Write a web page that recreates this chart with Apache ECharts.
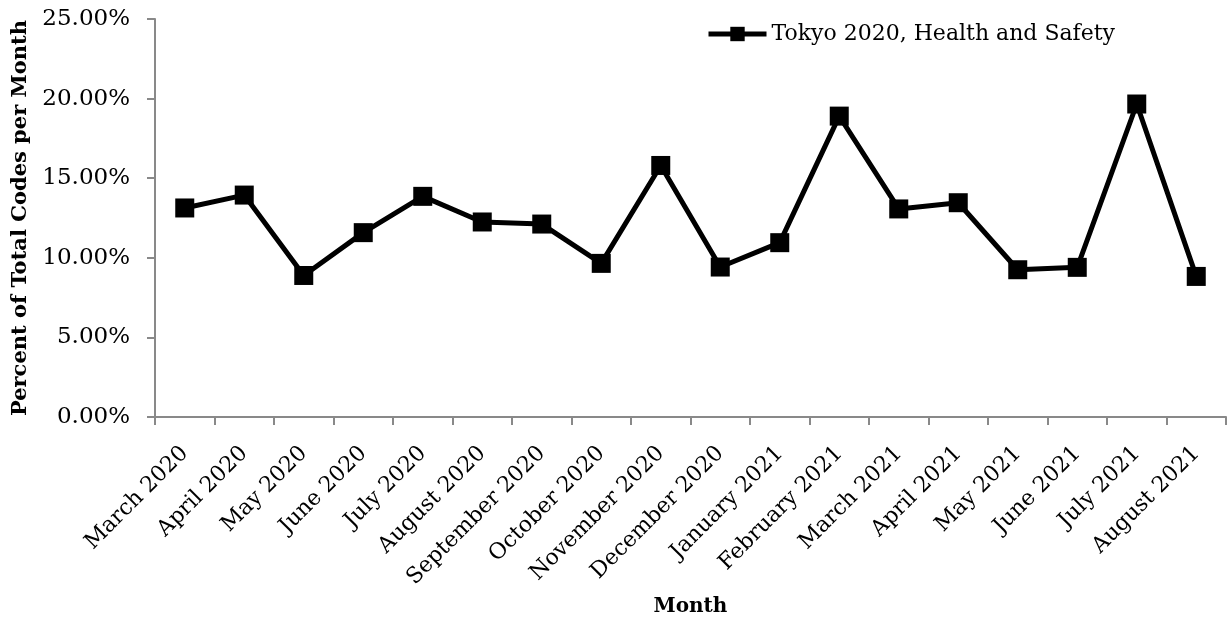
<!DOCTYPE html>
<html>
<head>
<meta charset="utf-8">
<script src="https://cdn.jsdelivr.net/npm/echarts@6/dist/echarts.min.js"></script>
<style>
  html, body { margin: 0; padding: 0; background: #fff; }
  #chart { width: 1227px; height: 627px; }
</style>
</head>
<body>
<div id="chart"></div>
<script>
// Monthly share of Health and Safety codes (percent of total codes)
const months = [
  'March 2020', 'April 2020', 'May 2020', 'June 2020', 'July 2020',
  'August 2020', 'September 2020', 'October 2020', 'November 2020',
  'December 2020', 'January 2021', 'February 2021', 'March 2021',
  'April 2021', 'May 2021', 'June 2021', 'July 2021', 'August 2021'
];
const healthSafety = [
  13.13, 13.94, 8.89, 11.58, 13.86, 12.25, 12.12, 9.65, 15.80,
  9.42, 10.95, 18.90, 13.07, 13.46, 9.25, 9.40, 19.66, 8.83
];
const seriesName = 'Tokyo 2020, Health and Safety';
const yMin = 0, yMax = 25, yStep = 5;

const serif = '"DejaVu Serif", "Liberation Serif", serif';
const axisGray = '#898989';

const chart = echarts.init(document.getElementById('chart'), null, { renderer: 'canvas' });
chart.setOption({
  animation: false,
  backgroundColor: '#ffffff',
  grid: { left: 155, right: 1, top: 19, bottom: 210, containLabel: false },
  legend: {
    left: 701, top: 18,
    itemWidth: 58, itemHeight: 18, itemGap: 4,
    lineStyle: { width: 5, color: '#000' },
    textStyle: { fontFamily: serif, fontSize: 22, color: '#000' },
    data: [seriesName]
  },
  xAxis: {
    type: 'category',
    data: months,
    boundaryGap: true,
    name: 'Month',
    nameLocation: 'middle',
    nameGap: 180,
    nameTextStyle: { fontFamily: serif, fontSize: 20, fontWeight: 'bold', color: '#000' },
    axisLine: { lineStyle: { color: axisGray, width: 2 } },
    axisTick: { show: true, interval: 0, length: 8, lineStyle: { color: axisGray, width: 2 } },
    axisLabel: {
      interval: 0, rotate: 45, margin: 33,
      fontFamily: serif, fontSize: 22, color: '#000'
    },
    splitLine: { show: false }
  },
  yAxis: {
    type: 'value',
    min: yMin, max: yMax, interval: yStep,
    name: 'Percent of Total Codes per Month',
    nameLocation: 'middle',
    nameGap: 118,
    nameRotate: 90,
    nameTextStyle: { fontFamily: serif, fontSize: 21, fontWeight: 'bold', color: '#000' },
    axisLine: { show: true, lineStyle: { color: axisGray, width: 2 } },
    axisTick: { show: true, length: 8, lineStyle: { color: axisGray, width: 2 } },
    axisLabel: {
      margin: 25,
      fontFamily: serif, fontSize: 23, color: '#000',
      formatter: v => v.toFixed(2) + '%'
    },
    splitLine: { show: false }
  },
  series: [{
    name: seriesName,
    type: 'line',
    data: healthSafety,
    symbol: 'rect',
    symbolSize: 19,
    showAllSymbol: true,
    lineStyle: { color: '#000', width: 5 },
    itemStyle: { color: '#000' }
  }]
});
</script>
</body>
</html>
